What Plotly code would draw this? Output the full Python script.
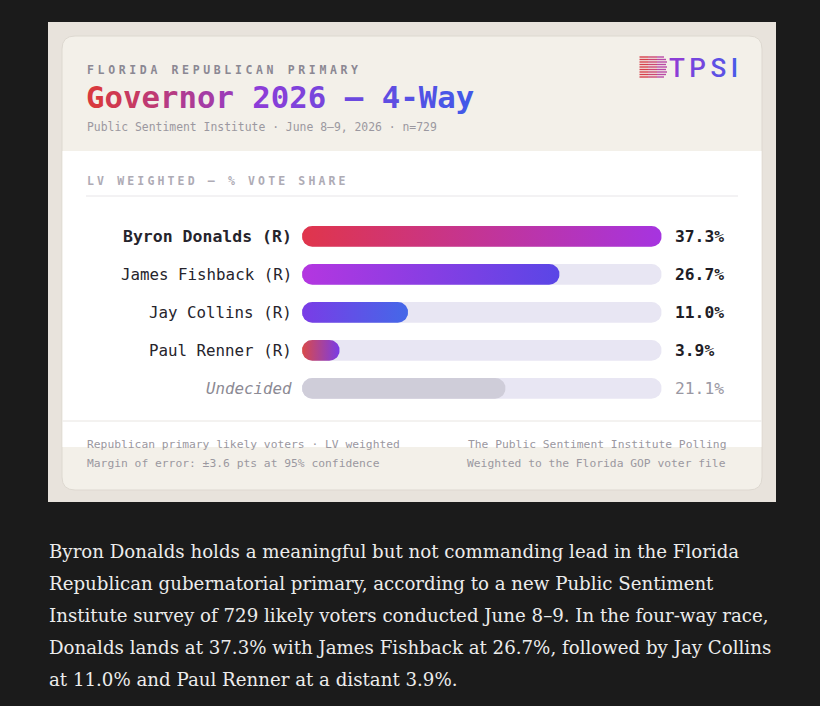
import numpy as np
import plotly.graph_objects as go

# ---------------- data ----------------
candidates = ["Byron Donalds (R)", "James Fishback (R)", "Jay Collins (R)", "Paul Renner (R)", "Undecided"]
shares = [37.3, 26.7, 11.0, 3.9, 21.1]
share_labels = ["37.3%", "26.7%", "11.0%", "3.9%", "21.1%"]
grad_start = ["#e0354b", "#b436e0", "#7a3ce6", "#d94a4a", "#cfcdd9"]
grad_end = ["#a634e0", "#5a46e6", "#4468e8", "#7a3ce6", "#cfcdd9"]

kicker = "FLORIDA REPUBLICAN PRIMARY"
title_text = "Governor 2026 — 4-Way"
subtitle = "Public Sentiment Institute · June 8–9, 2026 · n=729"
section_label = "LV WEIGHTED — % VOTE SHARE"
footer_left = ["Republican primary likely voters · LV weighted",
               "Margin of error: ±3.6 pts at 95% confidence"]
footer_right = ["The Public Sentiment Institute Polling",
                "Weighted to the Florida GOP voter file"]
paragraph_lines = [
    "Byron Donalds holds a meaningful but not commanding lead in the Florida",
    "Republican gubernatorial primary, according to a new Public Sentiment",
    "Institute survey of 729 likely voters conducted June 8–9. In the four-way race,",
    "Donalds lands at 37.3% with James Fishback at 26.7%, followed by Jay Collins",
    "at 11.0% and Paul Renner at a distant 3.9%.",
]

# ---------------- geometry helpers ----------------
W, H = 820, 706
def px(x): return x / W
def py(y): return 1 - y / H

BAR_L, BAR_R = 302.0, 661.7
ROW0, ROW_STEP = 236.3, 38.0
n = len(candidates)
xmax = max(shares)
half_h_px = 10.35
ry = half_h_px / ROW_STEP
rx = half_h_px * xmax / (BAR_R - BAR_L)

def pill(x0, x1, yc, k=28):
    t1 = np.linspace(-np.pi / 2, np.pi / 2, k)
    t2 = np.linspace(np.pi / 2, 3 * np.pi / 2, k)
    xr = (x1 - rx) + rx * np.cos(t1)
    yr = yc + ry * np.sin(t1)
    xl = (x0 + rx) + rx * np.cos(t2)
    yl = yc + ry * np.sin(t2)
    xs = np.concatenate([xr, xl, xr[:1]])
    ys = np.concatenate([yr, yl, yr[:1]])
    return xs, ys

def hex2rgb(h):
    h = h.lstrip("#")
    return tuple(int(h[i:i + 2], 16) for i in (0, 2, 4))

def mix(c0, c1, t):
    a, b = hex2rgb(c0), hex2rgb(c1)
    return "#%02x%02x%02x" % tuple(int(round(a[i] + (b[i] - a[i]) * t)) for i in range(3))

def spaced(text, gap):
    sp = "<span style='font-size:%.1fpx'>\u00a0</span>" % gap
    return sp.join(ch if ch != " " else "\u00a0" for ch in text)

fig = go.Figure()

# tracks
for i in range(n):
    xs, ys = pill(0, xmax, i)
    fig.add_trace(go.Scatter(x=xs, y=ys, mode="lines", fill="toself",
                             fillcolor="#e8e6f3", line=dict(width=0, color="rgba(0,0,0,0)"),
                             hoverinfo="skip", showlegend=False))
# value bars
for i, v in enumerate(shares):
    xs, ys = pill(0, v, i)
    kw = {}
    if grad_start[i] != grad_end[i]:
        kw["fillgradient"] = dict(type="horizontal",
                                  colorscale=[[0, grad_start[i]], [1, grad_end[i]]])
    fig.add_trace(go.Scatter(x=xs, y=ys, mode="lines", fill="toself",
                             fillcolor=grad_start[i], line=dict(width=0, color="rgba(0,0,0,0)"),
                             hoverinfo="skip", showlegend=False, name=candidates[i], **kw))

# ---------------- background shapes ----------------
shapes = []
shapes.append(dict(type="rect", xref="paper", yref="paper", x0=px(48), x1=px(776),
                   y0=py(502), y1=py(22), fillcolor="#e8e3dc", line=dict(width=0), layer="below"))
# rounded card
cx0, cx1, cy0, cy1, r = 62, 762, 36, 490, 13
path = ("M {a},{b} L {c},{b} Q {d},{b} {d},{e} L {d},{f} Q {d},{g} {c},{g} "
        "L {a},{g} Q {h},{g} {h},{f} L {h},{e} Q {h},{b} {a},{b} Z").format(
    a=px(cx0 + r), b=py(cy0), c=px(cx1 - r), d=px(cx1), e=py(cy0 + r),
    f=py(cy1 - r), g=py(cy1), h=px(cx0))
shapes.append(dict(type="path", xref="paper", yref="paper", path=path,
                   fillcolor="#f3f0e9", line=dict(color="#ddd8d0", width=1), layer="below"))
shapes.append(dict(type="rect", xref="paper", yref="paper", x0=px(62.5), x1=px(761.5),
                   y0=py(447), y1=py(151), fillcolor="#ffffff", line=dict(width=0), layer="below"))
shapes.append(dict(type="line", xref="paper", yref="paper", x0=px(86), x1=px(738),
                   y0=py(196), y1=py(196), line=dict(color="#e7e5e8", width=1), layer="below"))
shapes.append(dict(type="line", xref="paper", yref="paper", x0=px(62.5), x1=px(761.5),
                   y0=py(421), y1=py(421), line=dict(color="#e8e5e1", width=1), layer="below"))
# logo stripes
stripe_rights = [664, 666, 667, 666, 667, 666, 667, 666, 664]
for k, xr_ in enumerate(stripe_rights):
    yy = 57 + k * 2.5
    segs = [(639.5, 648, "#d63f4c"), (648, 657, "#cc4673"), (657, xr_, "#b94aa6")]
    for a, b, c in segs:
        shapes.append(dict(type="line", xref="paper", yref="paper", x0=px(a), x1=px(b),
                           y0=py(yy), y1=py(yy), line=dict(color=c, width=1.4), layer="above"))

# ---------------- annotations ----------------
ann = []
MONO = "DejaVu Sans Mono"
def A(text, x, y, size, color, xanchor="left", family=MONO, weight="normal", style="normal",
      yref="paper"):
    ann.append(dict(text=text, x=x, y=y, xref="paper", yref=yref, xanchor=xanchor,
                    yanchor="middle", showarrow=False,
                    font=dict(family=family, size=size, color=color, weight=weight, style=style)))

A(spaced(kicker, 6.0), px(85), py(69.5), 11.5, "#8b8893", weight="bold")
# gradient title
tchars = list(title_text)
m = len(tchars) - 1
parts = []
for j, ch in enumerate(tchars):
    t = j / m
    col = mix("#d8393f", "#8c3dd8", t / 0.45) if t <= 0.45 else mix("#8c3dd8", "#4358e8", (t - 0.45) / 0.55)
    parts.append("<span style='color:%s'>%s</span>" % (col, ch if ch != " " else "\u00a0"))
A("".join(parts), px(84), py(97), 30.7, "#8c3dd8", weight="bold")
A(subtitle, px(85), py(127), 11.4, "#9b98a0")
# logo text
logo_cols = ["#8c3ed6", "#7446de", "#5d50e4", "#4a5ae8"]
gap = "<span style='font-size:18px'>\u00a0</span>"
A(gap.join("<span style='color:%s'>%s</span>" % (c, ch) for c, ch in zip(logo_cols, "TPSI")),
  px(667), py(67.5), 26, "#7446de", family="Roboto", weight=500)
A(spaced(section_label, 5.2), px(85), py(181.5), 11.5, "#aeabb5", weight="bold")

for i, name in enumerate(candidates):
    undecided = name == "Undecided"
    A(name, px(294), i, 16.5 if i == 0 else 15.8, "#8c8a94" if undecided else "#26242c",
      xanchor="right", weight="bold" if i == 0 else "normal",
      style="italic" if undecided else "normal", yref="y")
    A(share_labels[i], px(673), i, 16.3, "#9a98a3" if undecided else "#1e1d26",
      weight="normal" if undecided else "bold", yref="y")

for k, line in enumerate(footer_left):
    A(line, px(85), py(444.5 + 18.5 * k), 11.3, "#9b98a0")
for k, line in enumerate(footer_right):
    A(line, px(728), py(444.5 + 18.5 * k), 11.3, "#9b98a0", xanchor="right")

for k, line in enumerate(paragraph_lines):
    A(line, px(47), py(551 + 32 * k), 18.2, "#ececec", family="DejaVu Serif")

fig.update_layout(
    width=W, height=H, margin=dict(l=0, r=0, t=0, b=0),
    paper_bgcolor="#1b1b1b", plot_bgcolor="rgba(0,0,0,0)", showlegend=False,
    xaxis=dict(range=[0, xmax], domain=[px(BAR_L), px(BAR_R)], visible=False, fixedrange=True),
    yaxis=dict(range=[n - 0.5, -0.5], domain=[py(ROW0 + (n - 0.5) * ROW_STEP), py(ROW0 - 0.5 * ROW_STEP)],
               visible=False, fixedrange=True),
    shapes=shapes, annotations=ann,
)
fig.write_html("out.html", config={"displayModeBar": False},
               post_script="document.body.style.margin='0';document.body.style.background='#1b1b1b';"
                           "document.body.style.overflow='hidden';")
